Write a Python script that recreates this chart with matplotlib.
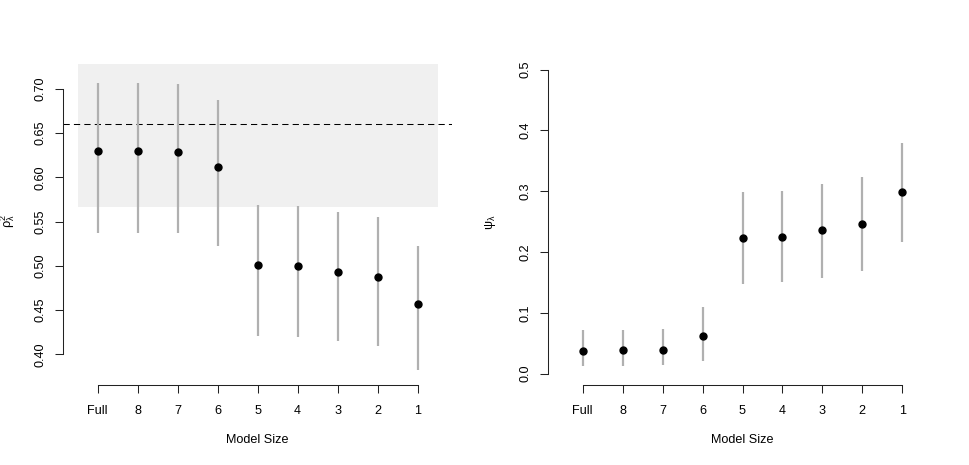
import matplotlib
matplotlib.use("Agg")
import matplotlib.pyplot as plt
import numpy as np

plt.rcParams['font.family'] = ['Liberation Sans', 'DejaVu Sans']
plt.rcParams['mathtext.fontset'] = 'custom'
plt.rcParams['mathtext.rm'] = 'Liberation Sans'
plt.rcParams['mathtext.it'] = 'Liberation Sans'

model_sizes = ["Full", "8", "7", "6", "5", "4", "3", "2", "1"]

rho_est = [0.630, 0.630, 0.629, 0.612, 0.501, 0.500, 0.493, 0.487, 0.457]
rho_lo = [0.537, 0.537, 0.537, 0.522, 0.421, 0.420, 0.415, 0.409, 0.382]
rho_hi = [0.706, 0.706, 0.705, 0.687, 0.569, 0.568, 0.561, 0.555, 0.522]
rho_ref = 0.66
rho_band = [0.566, 0.728]
rho_ticks = [0.40, 0.45, 0.50, 0.55, 0.60, 0.65, 0.70]

psi_est = [0.037, 0.038, 0.038, 0.061, 0.223, 0.225, 0.236, 0.246, 0.298]
psi_lo = [0.013, 0.013, 0.014, 0.020, 0.148, 0.150, 0.158, 0.168, 0.216]
psi_hi = [0.071, 0.072, 0.073, 0.110, 0.299, 0.300, 0.312, 0.323, 0.380]
psi_ticks = [0.0, 0.1, 0.2, 0.3, 0.4, 0.5]

W, H = 969, 465
fig = plt.figure(figsize=(W / 100, H / 100), dpi=100)

top_px, bot_px = 58, 385
ax1 = fig.add_axes([63.3 / W, 1 - bot_px / H, (452 - 63.3) / W, (bot_px - top_px) / H])
ax2 = fig.add_axes([548.3 / W, 1 - bot_px / H, (936.7 - 548.3) / W, (bot_px - top_px) / H])

x = np.arange(1, len(model_sizes) + 1)
fs = 9.1
grey = '#B0B0B0'


def style(ax, yticks, ylabels):
    for s in ['top', 'right']:
        ax.spines[s].set_visible(False)
    ax.spines['left'].set_bounds(yticks[0], yticks[-1])
    ax.spines['bottom'].set_bounds(1, len(model_sizes))
    for s in ['left', 'bottom']:
        ax.spines[s].set_linewidth(0.75)
        ax.spines[s].set_color('#222222')
    ax.set_xticks(x)
    ax.set_xticklabels(model_sizes, fontsize=fs)
    ax.set_yticks(yticks)
    ax.set_yticklabels(ylabels, fontsize=fs, rotation=90, va='center')
    ax.tick_params(axis='both', length=5.8, width=0.75, color='#222222')
    ax.tick_params(axis='x', pad=8.5)
    ax.tick_params(axis='y', pad=6)
    ax.set_xlim(0.14, 9.86)
    ax.set_facecolor('none')


# Left panel
ax1.add_patch(plt.Rectangle((0.5, rho_band[0]), 9.0, rho_band[1] - rho_band[0],
                            facecolor='#F0F0F0', edgecolor='none', zorder=0))
ax1.axhline(rho_ref, color='black', lw=0.75, dashes=(6, 4), zorder=1)
ax1.vlines(x, rho_lo, rho_hi, color=grey, lw=1.6, zorder=2)
ax1.plot(x, rho_est, 'o', color='black', ms=5, zorder=3)
ax1.set_ylim(0.3655, 0.7347)
style(ax1, rho_ticks, [f"{v:.2f}" for v in rho_ticks])

# Right panel
ax2.vlines(x, psi_lo, psi_hi, color=grey, lw=1.6, zorder=2)
ax2.plot(x, psi_est, 'o', color='black', ms=5, zorder=3)
ax2.set_ylim(-0.0188, 0.5191)
style(ax2, psi_ticks, [f"{v:.1f}" for v in psi_ticks])

for ax, xc in [(ax1, 257.7), (ax2, 742.5)]:
    fig.text(xc / W, 1 - 440 / H, "Model Size", ha='center', va='center', fontsize=fs)

fig.text(8 / W, 1 - 221 / H, r'$\rho^2_\lambda$', rotation=90, ha='center', va='center', fontsize=fs)
fig.text(490 / W, 1 - 222 / H, r'$\psi_\lambda$', rotation=90, ha='center', va='center', fontsize=fs)

fig.savefig("out.png", dpi=100)
